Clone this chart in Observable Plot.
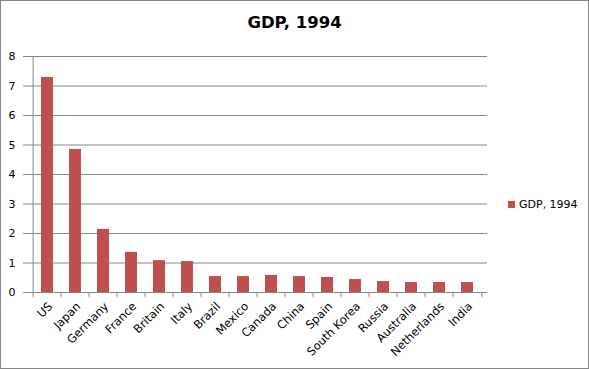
<!DOCTYPE html>
<html><head><meta charset="utf-8">
<script src="https://cdn.jsdelivr.net/npm/d3@7"></script>
<script src="https://cdn.jsdelivr.net/npm/@observablehq/plot@0.6"></script>
<style>
body{margin:0;background:#fff}
#chart{position:relative;width:589px;height:369px;overflow:hidden;font-family:"DejaVu Sans",sans-serif;background:#fff}
#chart svg{position:absolute;left:0;top:0}
#border{position:absolute;left:0;top:0;width:589px;height:369px;box-sizing:border-box;border:1px solid #868686;pointer-events:none}
#title{position:absolute;left:0;width:589px;top:13px;line-height:20px;text-align:center;font-weight:bold;font-size:16.5px;color:#000}
#legend{position:absolute;left:508px;top:197.7px;line-height:13px;font-size:11px;color:#000;white-space:nowrap}
#legend span.sw{display:inline-block;width:7px;height:7px;background:#C0504D;margin-right:4px;vertical-align:0px}
</style>
</head><body>
<div id="chart"></div>
<script>
const countries = ["US","Japan","Germany","France","Britain","Italy","Brazil","Mexico","Canada","China","Spain","South Korea","Russia","Australia","Netherlands","India"];
const gdp = [7.29,4.85,2.14,1.36,1.08,1.05,0.54,0.54,0.58,0.54,0.51,0.44,0.37,0.34,0.34,0.34];
const yTicks = [0,1,2,3,4,5,6,7,8];
const seriesName = "GDP, 1994";
const chartTitle = "GDP, 1994";

const data = countries.map((c,i)=>({country:c, gdp:gdp[i]}));
const W=589,H=369, mL=27, mR=102, mT=56, mB=77;
const step=(W-mL-mR)/countries.length;
const grid="#868686";
const barColor="#C0504D";

const plot = Plot.plot({
  width:W,height:H,marginLeft:mL,marginRight:mR,marginTop:mT,marginBottom:mB,
  style:{fontFamily:"DejaVu Sans", fontSize:"11px", color:"#000", background:"transparent", overflow:"visible"},
  x:{domain:countries, paddingInner:0.58, paddingOuter:0.29, axis:null, label:null},
  y:{domain:[0,8], axis:null, label:null},
  marks:[
    Plot.gridY(yTicks,{stroke:grid,strokeOpacity:1}),
    Plot.barY(data,{x:"country",y:"gdp",fill:barColor}),
    Plot.ruleY([0],{stroke:grid}),
    Plot.ruleX([countries[0]],{dx:-step/2, y1:0, y2:8, stroke:grid}),
    Plot.axisY(yTicks,{tickSize:4, tickPadding:8, stroke:grid, strokeOpacity:1, fill:"#000", label:null}),
    Plot.axisX(countries,{tickSize:5, dx:-step/2, text:null, stroke:grid, strokeOpacity:1, label:null}),
    Plot.axisX([countries[countries.length-1]],{tickSize:5, dx:step/2, text:null, stroke:grid, strokeOpacity:1, label:null}),
    Plot.axisX(countries,{tickSize:0, tickRotate:-45, tickPadding:12, dx:3, fontSize:11.5, fill:"#000", label:null})
  ]
});
const chart = document.getElementById("chart");
chart.appendChild(plot);
const t = document.createElement("div"); t.id="title"; t.textContent=chartTitle; chart.appendChild(t);
const lg = document.createElement("div"); lg.id="legend";
lg.innerHTML = '<span class="sw"></span>'; lg.appendChild(document.createTextNode(seriesName));
chart.appendChild(lg);
const b = document.createElement("div"); b.id="border"; chart.appendChild(b);
</script>
</body></html>
